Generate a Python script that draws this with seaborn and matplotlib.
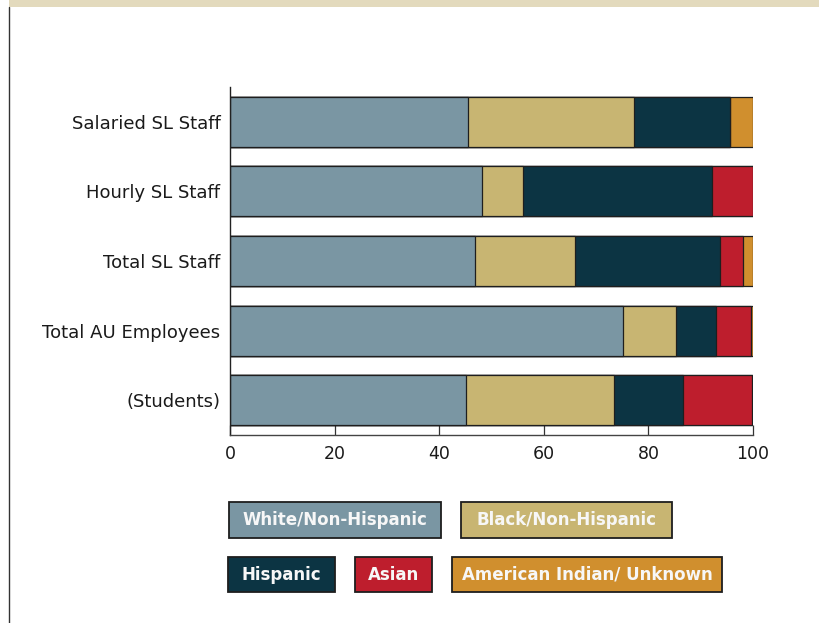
import numpy as np
import pandas as pd
import matplotlib
matplotlib.use("Agg")
import matplotlib.pyplot as plt
from matplotlib.patches import Rectangle
from matplotlib.lines import Line2D
import seaborn as sns

# Share of each group (percent) by population
categories = ["Salaried SL Staff", "Hourly SL Staff", "Total SL Staff",
              "Total AU Employees", "(Students)"]
groups = ["White/Non-Hispanic", "Black/Non-Hispanic", "Hispanic", "Asian",
          "American Indian/ Unknown"]
white = [45.6, 48.1, 46.9, 75.2, 45.2]
black = [31.7, 7.9, 19.1, 10.1, 28.2]
hispanic = [18.3, 36.1, 27.7, 7.7, 13.2]
asian = [0.0, 7.9, 4.3, 6.7, 13.2]
am_indian = [4.4, 0.0, 2.0, 0.3, 0.2]
colors = ["#7a96a3", "#c8b572", "#0c3443", "#be1e2d", "#d08f2e"]
x_ticks = [0, 20, 40, 60, 80, 100]

sns.set_theme(style="white")
plt.rcParams["font.family"] = ["DejaVu Sans"]

W, H = 820, 623
fig = plt.figure(figsize=(W / 100, H / 100), dpi=100)

def fx(px):
    return px / W

def fy(py):
    return 1 - py / H

ax = fig.add_axes([fx(230), fy(435), fx(753) - fx(230), fy(87) - fy(435)])

series = [white, black, hispanic, asian, am_indian]
df = pd.DataFrame({"category": categories})
cum = np.cumsum(np.array(series), axis=0)

# Stacked bars: draw the running totals from the outermost segment inwards
for i in range(len(series) - 1, -1, -1):
    df["value"] = cum[i]
    sns.barplot(data=df, x="value", y="category", order=categories,
                orient="h", color=colors[i], width=0.72, saturation=1,
                edgecolor="#1e1e1e", linewidth=0.9, ax=ax, errorbar=None)

ax.set_xlim(0, 100)
ax.set_ylim(4.5, -0.5)
ax.set_xticks(x_ticks)
ax.set_xticklabels([str(t) for t in x_ticks])
ax.set_xlabel("")
ax.set_ylabel("")
ax.tick_params(axis="x", direction="in", length=7, width=0.9, color="#333333",
               labelsize=12.5, labelcolor="#1a1a1a", pad=7, bottom=True)
ax.tick_params(axis="y", length=0, labelsize=13, labelcolor="#1a1a1a", pad=7)
for side in ["top", "right"]:
    ax.spines[side].set_visible(False)
ax.spines["left"].set_color("#222222")
ax.spines["left"].set_linewidth(1.0)
ax.spines["bottom"].set_color("#444444")
ax.spines["bottom"].set_linewidth(1.0)

# Legend as coloured label boxes
boxes = [(229, 502, 441, 538), (461, 502, 672, 538),
         (228, 557, 335, 592), (355, 557, 432, 592), (452, 557, 722, 592)]
for (x0, y0, x1, y1), name, col in zip(boxes, groups, colors):
    fig.add_artist(Rectangle((fx(x0), fy(y1)), fx(x1) - fx(x0), fy(y0) - fy(y1),
                             transform=fig.transFigure, facecolor=col,
                             edgecolor="#1e1e1e", linewidth=1.3))
    fig.text(fx((x0 + x1) / 2), fy((y0 + y1) / 2), name, ha="center",
             va="center", color="#f7f7f7", fontsize=12, fontweight="bold")

# Page frame: header band and left rule
fig.add_artist(Rectangle((fx(9), fy(7)), 1 - fx(9), fy(0) - fy(7),
                         transform=fig.transFigure, facecolor="#e3dabd",
                         edgecolor="none"))
fig.add_artist(Line2D([fx(9.5), fx(9.5)], [fy(7), 0], transform=fig.transFigure,
                      color="#333333", linewidth=1.0))

fig.savefig("out.png", dpi=100, facecolor="white")
